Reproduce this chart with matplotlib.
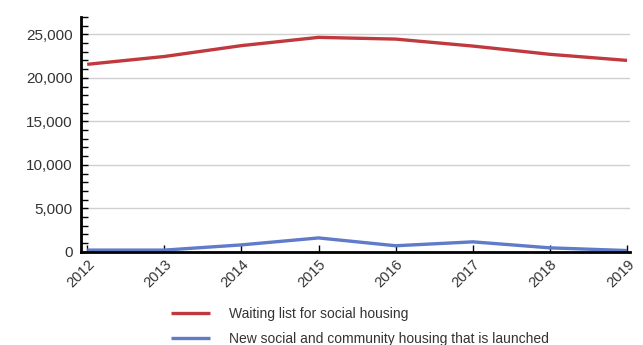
import matplotlib.pyplot as plt
from matplotlib.ticker import MultipleLocator, FuncFormatter

plt.rcParams['font.family'] = ['Liberation Sans', 'DejaVu Sans']

years = [2012, 2013, 2014, 2015, 2016, 2017, 2018, 2019]
waiting_list = [21550, 22450, 23700, 24650, 24450, 23650, 22700, 22000]
new_housing = [200, 200, 800, 1600, 700, 1150, 460, 150]

red = '#c0393f'
blue = '#5f7bc9'
txt = '#333333'

fig = plt.figure(figsize=(6.43, 3.45), dpi=100)
ax = fig.add_axes([0.126, 0.27, 0.854, 0.681])

ax.plot(years, waiting_list, color=red, lw=2.4, solid_capstyle='butt',
        label='Waiting list for social housing')
ax.plot(years, new_housing, color=blue, lw=2.4, solid_capstyle='butt',
        label='New social and community housing that is launched')

ax.set_xlim(2011.92, 2019.04)
ax.set_ylim(0, 27000)
ax.yaxis.set_major_locator(MultipleLocator(5000))
ax.yaxis.set_minor_locator(MultipleLocator(1000))
ax.yaxis.set_major_formatter(FuncFormatter(lambda v, p: f'{int(v):,}'))
ax.set_xticks(years)
ax.set_xticklabels([str(y) for y in years], rotation=45, ha='right',
                   rotation_mode='anchor')

ax.grid(axis='y', which='major', color='#d0d0d0', lw=1)
ax.set_axisbelow(True)
for s in ['top', 'right']:
    ax.spines[s].set_visible(False)
ax.spines['left'].set_linewidth(2)
ax.spines['bottom'].set_linewidth(2)
ax.tick_params(axis='y', which='both', direction='in', length=5, width=1,
               labelsize=11, labelcolor=txt, pad=6)
ax.tick_params(axis='x', direction='in', length=5, width=1,
               labelsize=10.5, labelcolor=txt, pad=4)

fig.legend(loc='lower left', bbox_to_anchor=(0.246, -0.04), frameon=False,
           fontsize=10, handlelength=2.8, handletextpad=1.37, labelspacing=0.8,
           labelcolor=txt)

fig.savefig('out.png', dpi=100)
